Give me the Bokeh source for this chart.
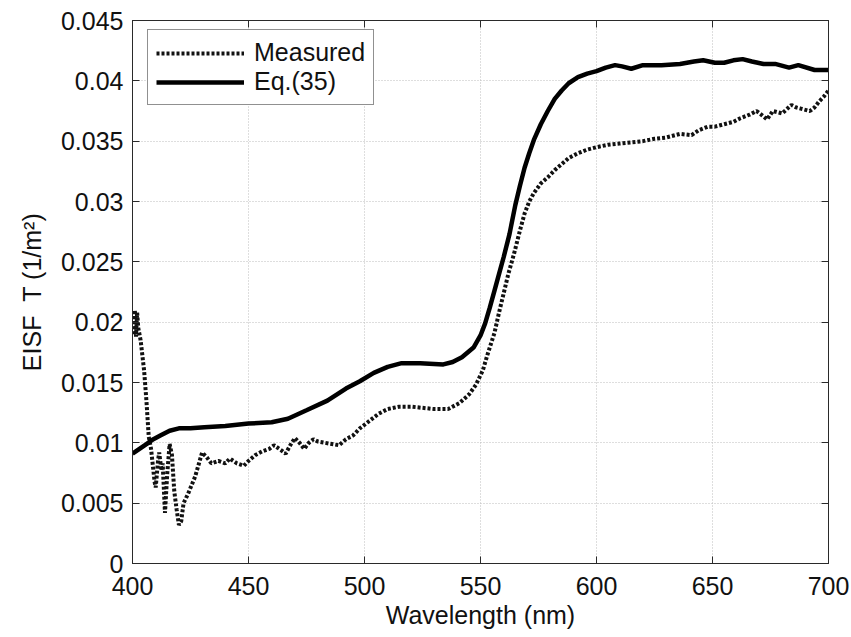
from bokeh.plotting import figure
from bokeh.models import LinearAxis, FixedTicker, CustomJSTickFormatter, Range1d
from bokeh.embed import file_html
from bokeh.resources import INLINE

# ---- data ----
meas_wl = [400.5, 401, 401.5, 402, 402.5, 403.5, 405, 406, 407, 408, 409.5, 410, 411, 411.5,
           412.5, 413, 414, 415, 416, 417, 418, 419, 420, 421, 422, 424, 427, 430, 432, 434,
           437, 440, 442, 445, 448, 450, 453, 456, 459, 461, 464, 466, 468, 470, 472, 474,
           476, 478, 480, 483, 486, 489, 492, 495, 498, 502, 506, 510, 515, 520, 525, 530,
           536, 541, 545, 548, 551, 553, 556, 558, 560, 562, 564.5, 567, 569, 571, 573, 576,
           579, 582, 585, 588, 592, 596, 600, 605, 610, 615, 620, 625, 630, 636, 641, 644,
           648, 651, 655, 659, 662, 666, 669, 671, 673.5, 676, 678, 680, 684, 686, 688, 692,
           694, 696, 698, 700]
meas_val = [0.0190, 0.0210, 0.0188, 0.0208, 0.0195, 0.0185, 0.0160, 0.0135, 0.0105, 0.0095,
            0.0068, 0.0063, 0.0085, 0.0092, 0.0077, 0.0083, 0.0042, 0.0075, 0.0099, 0.0090,
            0.0060, 0.0045, 0.0032, 0.0035, 0.0050, 0.0058, 0.0072, 0.0092, 0.0088, 0.0083,
            0.0085, 0.0083, 0.0087, 0.0083, 0.0081, 0.0085, 0.0090, 0.0093, 0.0095, 0.0098,
            0.0094, 0.0091, 0.0098, 0.0104, 0.0100, 0.0095, 0.0100, 0.0103, 0.0101, 0.0100,
            0.0099, 0.0098, 0.0103, 0.0106, 0.0112, 0.0118, 0.0124, 0.0128, 0.0130, 0.0130,
            0.0129, 0.0128, 0.0128, 0.0133, 0.0140, 0.0148, 0.0160, 0.0173, 0.0191, 0.0208,
            0.0224, 0.0240, 0.0257, 0.0276, 0.0290, 0.0300, 0.0307, 0.0315, 0.0320, 0.0326,
            0.0331, 0.0336, 0.0340, 0.0343, 0.0345, 0.0347, 0.0348, 0.0349, 0.0350, 0.0352,
            0.0353, 0.0356, 0.0355, 0.0359, 0.0362, 0.0362, 0.0364, 0.0366, 0.0369, 0.0372,
            0.0375, 0.0372, 0.0368, 0.0375, 0.0374, 0.0373, 0.0380, 0.0378, 0.0377, 0.0375,
            0.0378, 0.0383, 0.0387, 0.0392]

eq_wl = [400, 403, 406, 409, 412, 416, 420, 425, 431, 440, 450, 460, 467, 475, 484, 492, 498,
         504, 510, 516, 524, 534, 538, 542, 547, 550, 552, 554, 556, 558, 560, 562.5, 565, 567,
         569, 571, 573, 576, 579, 582, 585, 588, 592, 596, 600, 604, 608, 611, 615, 620, 628,
         636, 642, 646, 651, 655, 659, 663, 667, 672, 677, 683, 687, 694, 700]
eq_val = [0.0091, 0.0095, 0.0099, 0.0103, 0.0106, 0.0110, 0.0112, 0.0112, 0.0113, 0.0114,
          0.0116, 0.0117, 0.0120, 0.0127, 0.0135, 0.0145, 0.0151, 0.0158, 0.0163, 0.0166,
          0.0166, 0.0165, 0.0167, 0.0171, 0.0179, 0.0189, 0.0199, 0.0212, 0.0226, 0.0240,
          0.0254, 0.0273, 0.0297, 0.0313, 0.0328, 0.0340, 0.0351, 0.0364, 0.0375, 0.0385,
          0.0392, 0.0398, 0.0403, 0.0406, 0.0408, 0.0411, 0.0413, 0.0412, 0.0410, 0.0413,
          0.0413, 0.0414, 0.0416, 0.0417, 0.0415, 0.0415, 0.0417, 0.0418, 0.0416, 0.0414,
          0.0414, 0.0411, 0.0413, 0.0409, 0.0409]

x_ticks = [400, 450, 500, 550, 600, 650, 700]
y_ticks = [0, 0.005, 0.01, 0.015, 0.02, 0.025, 0.03, 0.035, 0.04, 0.045]
y_tick_labels = ["0", "0.005", "0.01", "0.015", "0.02", "0.025", "0.03", "0.035", "0.04", "0.045"]

series_names = ["Measured", "Eq.(35)"]
x_title = "Wavelength (nm)"
y_title = "EISF\u00a0\u00a0T (1/m\u00b2)"

FONT = "Liberation Sans"
FS = "25px"
AX = "#2a2a2a"

p = figure(width=851, height=637, output_backend="svg", toolbar_location=None,
           x_range=Range1d(400, 700), y_range=Range1d(0, 0.045),
           min_border_left=132, min_border_right=23, min_border_top=20, min_border_bottom=74,
           background_fill_color="white", border_fill_color="white")
p.outline_line_color = AX
p.outline_line_width = 1

p.line(meas_wl, meas_val, line_color="#111111", line_width=4, line_dash="3 2",
       legend_label=series_names[0])
p.line(eq_wl, eq_val, line_color="#000000", line_width=4.5, legend_label=series_names[1])

for ax in (p.xaxis[0], p.yaxis[0]):
    ax.major_label_text_font = FONT
    ax.major_label_text_font_size = FS
    ax.major_label_text_color = "#111111"
    ax.axis_label_text_font = FONT
    ax.axis_label_text_font_size = FS
    ax.axis_label_text_font_style = "normal"
    ax.axis_label_text_color = "#111111"
    ax.axis_line_color = AX
    ax.major_tick_line_color = AX
    ax.major_tick_in = 7
    ax.major_tick_out = 0
    ax.minor_tick_line_color = None

p.xaxis[0].ticker = FixedTicker(ticks=x_ticks)
p.yaxis[0].ticker = FixedTicker(ticks=y_ticks)
p.yaxis[0].major_label_overrides = {t: l for t, l in zip(y_ticks, y_tick_labels)}
p.xaxis[0].axis_label = x_title
p.yaxis[0].axis_label = y_title
p.xaxis[0].major_label_standoff = 13
p.xaxis[0].axis_label_standoff = 3
p.yaxis[0].major_label_standoff = 9
p.yaxis[0].axis_label_standoff = 12

blank = CustomJSTickFormatter(code="return ''")
top = LinearAxis(ticker=FixedTicker(ticks=x_ticks), formatter=blank,
                 major_label_text_font_size="1px", major_tick_in=7, major_tick_out=0,
                 minor_tick_line_color=None, axis_line_color=AX, major_tick_line_color=AX,
                 major_label_standoff=0)
right = LinearAxis(ticker=FixedTicker(ticks=y_ticks), formatter=blank,
                   major_label_text_font_size="1px", major_tick_in=7, major_tick_out=0,
                   minor_tick_line_color=None, axis_line_color=AX, major_tick_line_color=AX,
                   major_label_standoff=0)
p.add_layout(top, "above")
p.add_layout(right, "right")

p.xgrid.ticker = FixedTicker(ticks=x_ticks)
p.ygrid.ticker = FixedTicker(ticks=y_ticks)
for g in (p.xgrid[0], p.ygrid[0]):
    g.grid_line_color = "#bdbdbd"
    g.grid_line_dash = "1 2"
    g.grid_line_width = 1

lg = p.legend[0]
lg.location = (15, 458)
lg.label_text_font = FONT
lg.label_text_font_size = FS
lg.label_text_color = "#111111"
lg.glyph_width = 88
lg.glyph_height = 28
lg.label_height = 28
lg.label_standoff = 10
lg.padding = 8
lg.spacing = 0
lg.margin = 0
lg.border_line_color = "#222222"
lg.border_line_width = 1
lg.background_fill_color = "white"
lg.background_fill_alpha = 1

open("out.html", "w").write(file_html(p, INLINE))
